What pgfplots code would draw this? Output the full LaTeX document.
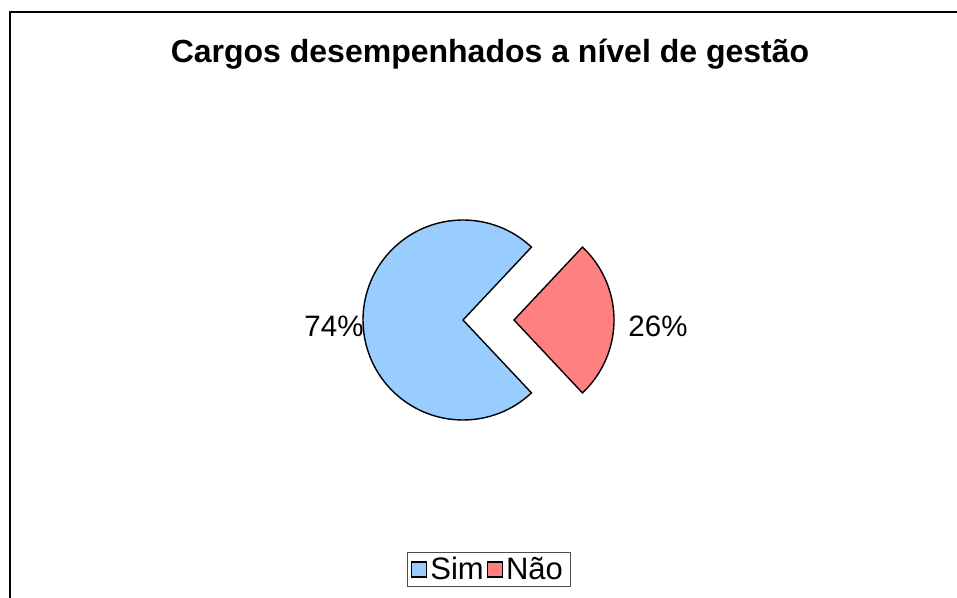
\documentclass[border=0pt]{standalone}
\usepackage{fontspec}
\setmainfont{Liberation Sans}
\usepackage{pgfplots}
\usepackage{pgfplotstable}
\pgfplotsset{compat=1.18}
\definecolor{simblue}{HTML}{99CCFF}
\definecolor{naored}{HTML}{FF8080}
\pgfplotstableread{
idx value
0 74
1 26
}\piedata
\begin{document}%
\begin{tikzpicture}
\pgfplotstablegetelem{0}{value}\of\piedata \let\vSim\pgfplotsretval
\pgfplotstablegetelem{1}{value}\of\piedata \let\vNao\pgfplotsretval
\pgfmathsetmacro\halfNao{\vNao*3.6/2}
\pgfmathsetmacro\spanSim{\vSim*3.6}
\pgfmathsetmacro\spanNao{\vNao*3.6}
\path[use as bounding box, clip] (0,0) rectangle (957bp,598bp);
\begin{axis}[
  at={(0,0)}, anchor=south west,
  scale only axis, width=957bp, height=598bp,
  xmin=0, xmax=957, ymin=0, ymax=598, y dir=reverse,
  hide axis,
  legend columns=2,
  legend style={at={(axis cs:488.5,552)}, anchor=north, draw=black!70, line width=0.8bp,
    font=\fontsize{31bp}{35bp}\selectfont, inner xsep=4bp, inner ysep=4bp,
    /tikz/every even column/.append style={column sep=0bp},
    nodes={inner xsep=3bp, inner ysep=1bp}},
  legend image code/.code={\filldraw[#1, draw=black, line width=1.3bp] (0bp,-7.5bp) rectangle (15bp,7.5bp);},
]
\addlegendimage{fill=simblue}
\addlegendentry{Sim}
\addlegendimage{fill=naored}
\addlegendentry{Não}
\draw[line width=2bp, black] (axis cs:10,12.5) rectangle (axis cs:990,640);
\node[font=\fontsize{32bp}{38bp}\selectfont\bfseries] at (axis cs:490,54) {Cargos desempenhados a nível de gestão};
\filldraw[fill=simblue, draw=black, line width=1.4bp] (axis cs:463,320) -- ++(\halfNao:100bp) arc[start angle=\halfNao, delta angle=\spanSim, radius=100bp] -- cycle;
\filldraw[fill=naored, draw=black, line width=1.4bp] (axis cs:514,320) -- ++(-\halfNao:100bp) arc[start angle=-\halfNao, delta angle=\spanNao, radius=100bp] -- cycle;
\node[font=\fontsize{29.5bp}{33bp}\selectfont] at (axis cs:334,326) {74\%};
\node[font=\fontsize{29.5bp}{33bp}\selectfont] at (axis cs:658,326) {26\%};
\end{axis}
\end{tikzpicture}%
\end{document}
